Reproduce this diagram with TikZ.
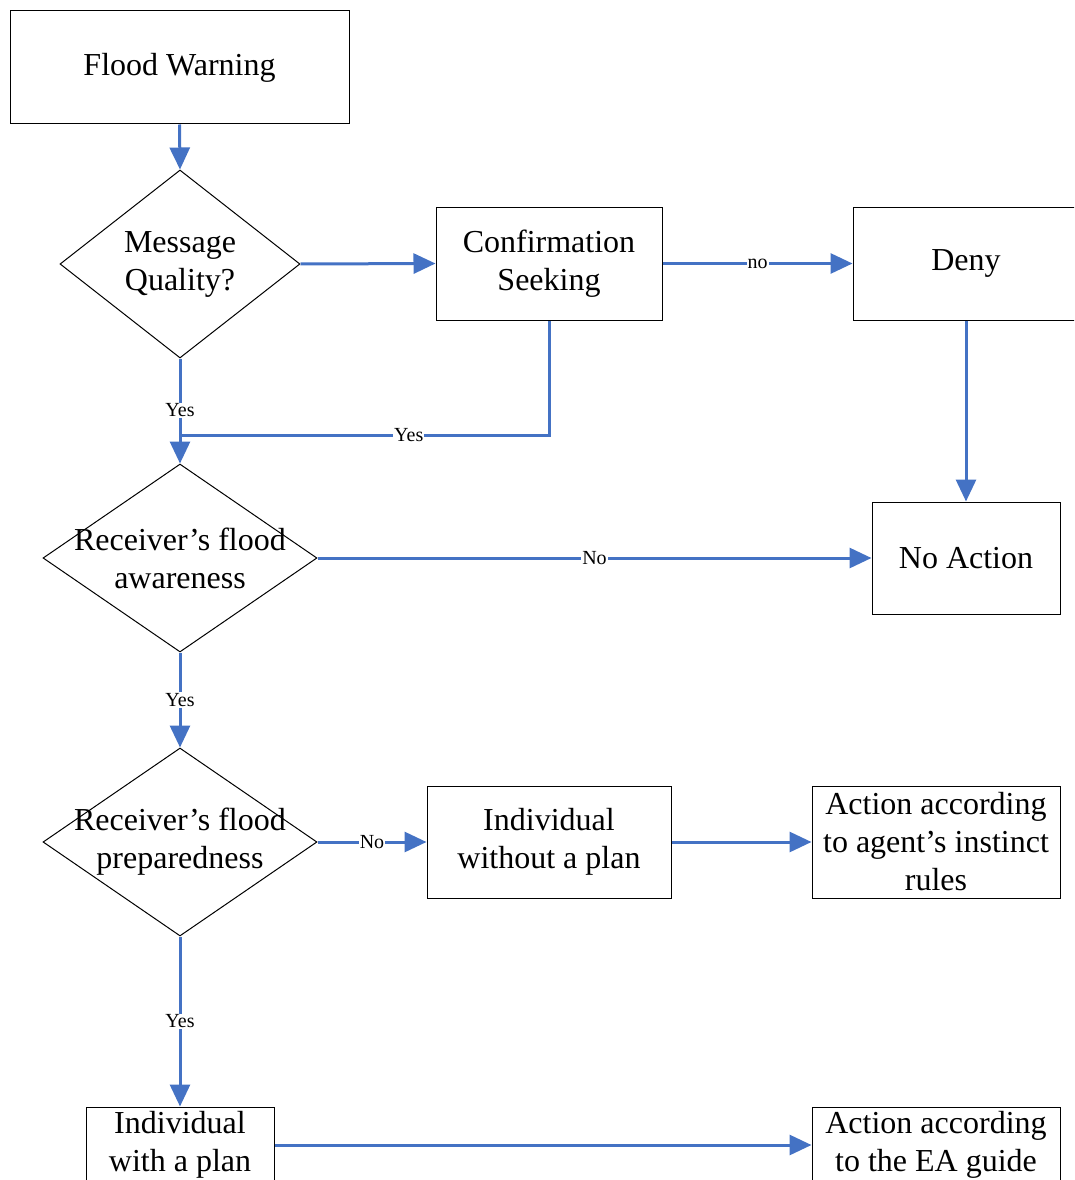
\documentclass[tikz,border=0pt]{standalone}
\usepackage{fontspec}
\setmainfont{Liberation Serif}
\usetikzlibrary{arrows.meta,shapes.geometric}
\definecolor{flowblue}{HTML}{4472C4}
\tikzset{
  stepbox/.style={draw=black, line width=1pt, rectangle, inner sep=0pt,
    font=\fontsize{32}{38}\selectfont, align=center},
  decision/.style={draw=black, line width=1pt, diamond, inner sep=0pt,
    minimum width=#1, minimum height=188pt},
  dtext/.style={font=\fontsize{32}{38}\selectfont, align=center, inner sep=0pt},
  flow/.style={draw=flowblue, line width=3pt,
    -{Triangle[length=22pt,width=20pt]}},
  flowline/.style={draw=flowblue, line width=3pt},
  tag/.style={fill=white, inner sep=1pt, font=\fontsize{20}{24}\selectfont}
}
\begin{document}
\begin{tikzpicture}[x=1pt,y=-1pt]
\useasboundingbox (0,0) rectangle (1074,1180);
\clip (0,0) rectangle (1074,1180);

% process boxes
\node[stepbox, minimum width=339pt, minimum height=113pt] (warn) at (179.5,67.5) {Flood Warning};
\node[stepbox, minimum width=226pt, minimum height=113pt] (conf) at (549,263.5) {Confirmation\\Seeking};
\node[stepbox, minimum width=226pt, minimum height=113pt] (deny) at (966,263.5) {Deny};
\node[stepbox, minimum width=188pt, minimum height=112pt] (noact) at (966,558) {No Action};
\node[stepbox, minimum width=244pt, minimum height=112pt] (noplan) at (549,842) {Individual\\without a plan};
\node[stepbox, minimum width=248pt, minimum height=112pt] (instinct) at (936,842) {Action according\\to agent’s instinct\\rules};
\node[stepbox, minimum width=188pt, minimum height=76pt] (plan) at (180,1145) {Individual\\with a plan};
\node[stepbox, minimum width=248pt, minimum height=76pt] (guide) at (936,1145) {Action according\\to the EA guide};

% decisions
\node[decision=240pt] (quality) at (180,264) {};
\node[dtext] (qualityt) at (quality) {Message\\Quality?};
\node[decision=274pt] (aware) at (180,558) {};
\node[dtext] (awaret) at (aware) {Receiver’s flood\\awareness};
\node[decision=274pt] (prep) at (180,842) {};
\node[dtext] (prept) at (prep) {Receiver’s flood\\preparedness};

% junction where the two "Yes" branches meet
\coordinate (join) at (180,435);

% connectors
\draw[flow] (warn.south) -- (quality.north);
\draw[flow] (quality.east) -- (conf.west);
\draw[flow] (conf.east) -- node[tag, pos=0.5] {no} (deny.west);
\draw[flowline] (quality.south) -- node[tag, pos=0.68] {Yes} (join);
\draw[flow] (join) -- (aware.north);
\draw[flowline] (conf.south) |- node[tag, pos=0.69] {Yes} (join);
\draw[flow] (deny.south) -- (noact.north);
\draw[flow] (aware.east) -- node[tag, pos=0.5] {No} (noact.west);
\draw[flow] (aware.south) -- node[tag, pos=0.5] {Yes} (prep.north);
\draw[flow] (prep.east) -- node[tag, pos=0.5] {No} (noplan.west);
\draw[flow] (noplan.east) -- (instinct.west);
\draw[flow] (prep.south) -- node[tag, pos=0.5] {Yes} (plan.north);
\draw[flow] (plan.east) -- (guide.west);
\end{tikzpicture}
\end{document}
